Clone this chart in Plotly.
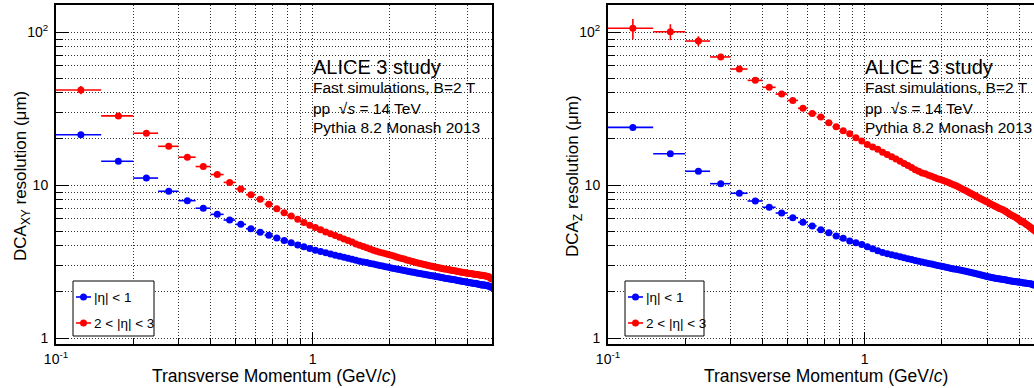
import math
import plotly.graph_objects as go

# ---------------- data ----------------
pt_centers = [round(0.125 + 0.05 * i, 3) for i in range(98)]
pt_halfwidth = [0.025] * 98

dcaxy_eta1 = [21.3, 14.3, 11.1, 9.10, 7.90, 7.05, 6.43, 5.90, 5.53, 5.18,
              4.91, 4.69, 4.50, 4.33, 4.20, 4.05, 3.95, 3.84, 3.75, 3.68,
              3.61, 3.54, 3.48, 3.42, 3.37, 3.32, 3.27, 3.22, 3.18, 3.14,
              3.11, 3.07, 3.04, 3.01, 2.98, 2.95, 2.92, 2.90, 2.87, 2.85,
              2.82, 2.80, 2.78, 2.76, 2.74, 2.72, 2.70, 2.69, 2.67, 2.65,
              2.64, 2.62, 2.61, 2.59, 2.58, 2.56, 2.55, 2.54, 2.52, 2.51,
              2.50, 2.49, 2.48, 2.46, 2.45, 2.44, 2.43, 2.42, 2.41, 2.40,
              2.39, 2.38, 2.37, 2.36, 2.35, 2.34, 2.33, 2.32, 2.31, 2.30,
              2.30, 2.29, 2.28, 2.27, 2.28, 2.25, 2.25, 2.24, 2.24, 2.21,
              2.23, 2.22, 2.20, 2.21, 2.19, 2.18, 2.17, 2.14]
dcaxy_eta1_err = [0.5, 0.3, 0.2, 0.15] + [0.0] * 94

dcaxy_eta23 = [41.8, 28.3, 21.8, 17.9, 15.2, 13.2, 11.7, 10.4, 9.42, 8.64,
               8.07, 7.48, 7.00, 6.59, 6.27, 5.97, 5.68, 5.45, 5.28, 5.09,
               4.93, 4.80, 4.67, 4.55, 4.44, 4.34, 4.24, 4.12, 4.04, 3.96,
               3.89, 3.82, 3.75, 3.69, 3.64, 3.60, 3.56, 3.52, 3.48, 3.44,
               3.38, 3.34, 3.31, 3.28, 3.24, 3.21, 3.18, 3.15, 3.12, 3.09,
               3.07, 3.04, 3.02, 3.00, 2.98, 2.96, 2.94, 2.92, 2.90, 2.89,
               2.87, 2.86, 2.84, 2.83, 2.81, 2.80, 2.78, 2.77, 2.76, 2.75,
               2.74, 2.72, 2.71, 2.70, 2.69, 2.68, 2.67, 2.66, 2.65, 2.64,
               2.64, 2.63, 2.62, 2.61, 2.60, 2.60, 2.59, 2.58, 2.57, 2.57,
               2.56, 2.55, 2.54, 2.53, 2.52, 2.50, 2.47, 2.43]
dcaxy_eta23_err = [2.6, 0.8, 0.5, 0.35, 0.25] + [0.0] * 93

dcaz_eta1 = [23.8, 16.0, 12.3, 10.2, 8.83, 7.86, 7.15, 6.56, 6.11, 5.70,
             5.40, 5.10, 4.88, 4.64, 4.48, 4.31, 4.20, 4.08, 3.95, 3.83,
             3.72, 3.62, 3.56, 3.50, 3.45, 3.40, 3.35, 3.30, 3.26, 3.21,
             3.17, 3.14, 3.10, 3.07, 3.04, 3.01, 2.98, 2.95, 2.93, 2.90,
             2.88, 2.85, 2.83, 2.81, 2.79, 2.77, 2.75, 2.73, 2.71, 2.69,
             2.67, 2.65, 2.63, 2.61, 2.59, 2.57, 2.55, 2.53, 2.51, 2.50,
             2.49, 2.48, 2.46, 2.45, 2.44, 2.43, 2.42, 2.41, 2.40, 2.39,
             2.38, 2.37, 2.36, 2.35, 2.34, 2.33, 2.33, 2.32, 2.31, 2.31,
             2.30, 2.29, 2.29, 2.28, 2.27, 2.26, 2.26, 2.25, 2.23, 2.22,
             2.21, 2.20, 2.19, 2.18, 2.17, 2.16, 2.15, 2.13]
dcaz_eta1_err = [0.6, 0.35, 0.2, 0.15] + [0.0] * 94

dcaz_eta23 = [105.7, 100.4, 87.3, 68.7, 57.3, 48.3, 43.5, 39.3, 35.7, 31.7,
              29.3, 27.8, 25.5, 24.0, 22.6, 21.6, 20.4, 19.4, 18.4, 17.7,
              17.1, 16.4, 15.8, 15.3, 14.8, 14.3, 13.8, 13.4, 13.0, 12.6,
              12.3, 12.0, 11.86, 11.6, 11.4, 11.2, 11.0, 10.85, 10.7, 10.53,
              10.37, 10.2, 10.05, 9.90, 9.72, 9.51, 9.35, 9.19, 9.02, 8.87,
              8.72, 8.58, 8.44, 8.30, 8.17, 8.04, 7.92, 7.80, 7.70, 7.58,
              7.47, 7.37, 7.27, 7.18, 7.08, 7.00, 6.95, 6.86, 6.76, 6.66,
              6.55, 6.45, 6.36, 6.30, 6.22, 6.15, 6.06, 5.98, 5.88, 5.76,
              5.80, 5.68, 5.60, 5.52, 5.46, 5.38, 5.30, 5.22, 5.14, 5.06,
              4.98, 4.92, 4.86, 4.80, 4.74, 4.68, 4.62, 4.55]
dcaz_eta23_err = [16.0, 12.0, 6.5, 2.5, 1.5, 1.0, 0.7] + [0.0] * 91

legend_labels = ["|η| < 1", "2 < |η| < 3"]
series_colors = ["#0000ff", "#ff0000"]
x_major_ticks = [0.1, 1]
x_major_text = ["10<sup>-1</sup>", "1"]
x_minor_ticks = [0.2, 0.3, 0.4, 0.5, 0.6, 0.7, 0.8, 0.9, 2, 3, 4]
y_major_ticks = [1, 10, 100]
y_major_text = ["1", "10", "10<sup>2</sup>"]
y_minor_ticks = [2, 3, 4, 5, 6, 7, 8, 9, 20, 30, 40, 50, 60, 70, 80, 90]
info_lines = ["ALICE 3 study", "Fast simulations, B=2 T",
              "pp  √<i>s</i> = 14 TeV", "Pythia 8.2 Monash 2013"]

# ---------------- layout helpers ----------------
W, H = 1034, 388
FONT = "Liberation Sans, Arial, Helvetica, sans-serif"


def px(x):
    return x / W


def py(y):
    return 1 - y / H


fig = go.Figure()


def add_series(y, err, color, xa, ya):
    fig.add_trace(go.Scatter(
        x=pt_centers, y=y, mode="markers", xaxis=xa, yaxis=ya,
        marker=dict(color=color, size=7, line=dict(width=0)),
        error_x=dict(type="data", array=pt_halfwidth, color=color,
                     thickness=1.6, width=0),
        error_y=dict(type="data", array=err, color=color,
                     thickness=1.6, width=0),
        showlegend=False, hoverinfo="x+y"))


add_series(dcaxy_eta1, dcaxy_eta1_err, series_colors[0], "x", "y")
add_series(dcaxy_eta23, dcaxy_eta23_err, series_colors[1], "x", "y")
add_series(dcaz_eta1, dcaz_eta1_err, series_colors[0], "x2", "y2")
add_series(dcaz_eta23, dcaz_eta23_err, series_colors[1], "x2", "y2")

grid_col = "#333333"
grid_dash = "1px,2px"
tickfont = dict(family=FONT, size=14, color="black")


def xaxis(domain, rng, anchor):
    return dict(type="log", domain=domain, range=rng, anchor=anchor,
                automargin=False,
                tickvals=x_major_ticks, ticktext=x_major_text,
                ticks="inside", ticklen=12, tickwidth=1, tickcolor="black",
                showgrid=True, gridcolor=grid_col, griddash=grid_dash, gridwidth=1,
                minor=dict(tickvals=x_minor_ticks, ticks="inside", ticklen=6,
                           tickwidth=1, tickcolor="black", showgrid=True,
                           gridcolor=grid_col, griddash=grid_dash, gridwidth=1),
                showline=True, linecolor="black", linewidth=2, mirror=True,
                zeroline=False, tickfont=tickfont, ticklabelstandoff=1)


def yaxis(domain, rng, anchor, mirror):
    return dict(type="log", domain=domain, range=rng, anchor=anchor,
                automargin=False,
                tickvals=y_major_ticks, ticktext=y_major_text,
                ticks="inside", ticklen=13, tickwidth=1, tickcolor="black",
                showgrid=True, gridcolor=grid_col, griddash=grid_dash, gridwidth=1,
                minor=dict(tickvals=y_minor_ticks, ticks="inside", ticklen=7,
                           tickwidth=1, tickcolor="black", showgrid=True,
                           gridcolor=grid_col, griddash=grid_dash, gridwidth=1),
                showline=True, linecolor="black", linewidth=2, mirror=mirror,
                zeroline=False, tickfont=tickfont, ticklabelstandoff=3)


ydom = [py(344), py(5)]
yrng = [-6 / 153, 2 + 27 / 153]
dec = 436 / math.log10(50)  # px per decade
left_dom = [px(56), px(492)]
right_dom = [px(608), 1.0]
right_hi = -1 + (W - 608) / dec

fig.update_layout(
    width=W, height=H, autosize=False,
    margin=dict(l=0, r=0, t=0, b=0, pad=0, autoexpand=False),
    paper_bgcolor="white", plot_bgcolor="white",
    xaxis=xaxis(left_dom, [-1, math.log10(5)], "y"),
    yaxis=yaxis(ydom, yrng, "x", True),
    xaxis2=xaxis(right_dom, [-1, right_hi], "y2"),
    yaxis2=yaxis(ydom, yrng, "x2", False),
    font=dict(family=FONT, color="black"),
)

annotations = []
shapes = []
for off, ytitle in [(0, "DCA<sub>XY</sub> resolution (μm)"),
                    (552, "DCA<sub>Z</sub> resolution (μm)")]:
    # axis titles
    annotations.append(dict(text="Transverse Momentum (GeV/<i>c</i>)",
                            x=px(274 + off), y=py(376), xref="paper", yref="paper",
                            xanchor="center", yanchor="middle", showarrow=False,
                            font=dict(family=FONT, size=17.5, color="black")))
    annotations.append(dict(text=ytitle, textangle=-90,
                            x=px(22 + off), y=py(176), xref="paper", yref="paper",
                            xanchor="center", yanchor="middle", showarrow=False,
                            font=dict(family=FONT, size=17, color="black")))
    # info text
    for line, yy, fs in zip(info_lines, [67, 88, 108, 128],
                            [20, 15.5, 15.5, 15.5]):
        annotations.append(dict(text=line, x=px(311 + off), y=py(yy),
                                xref="paper", yref="paper", xanchor="left",
                                yanchor="middle", showarrow=False,
                                font=dict(family=FONT, size=fs, color="black")))
    # legend box
    shapes.append(dict(type="rect", xref="paper", yref="paper",
                       x0=px(73 + off), x1=px(154 + off + (0 if off == 0 else -2)),
                       y0=py(336), y1=py(281),
                       line=dict(color="black", width=1), fillcolor="white",
                       layer="above"))
    for lab, col, yy in zip(legend_labels, series_colors, [297, 323]):
        shapes.append(dict(type="line", xref="paper", yref="paper",
                           x0=px(76 + off), x1=px(91 + off), y0=py(yy), y1=py(yy),
                           line=dict(color=col, width=1.6), layer="above"))
        shapes.append(dict(type="circle", xref="paper", yref="paper",
                           x0=px(80 + off), x1=px(87 + off),
                           y0=py(yy + 3.5), y1=py(yy - 3.5),
                           line=dict(color=col, width=0), fillcolor=col,
                           layer="above"))
        annotations.append(dict(text=lab, x=px(92 + off), y=py(yy),
                                xref="paper", yref="paper", xanchor="left",
                                yanchor="middle", showarrow=False,
                                font=dict(family=FONT, size=13.5, color="black")))

fig.update_layout(annotations=annotations, shapes=shapes)
fig.write_html("out.html")
